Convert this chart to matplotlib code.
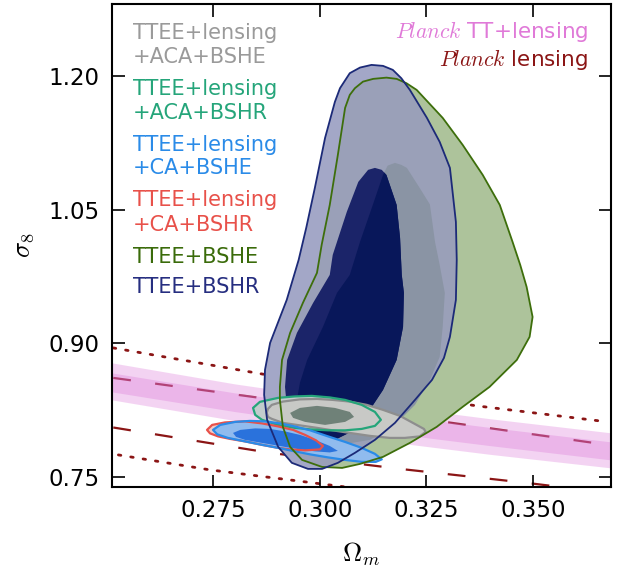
import matplotlib
matplotlib.use("Agg")
import matplotlib.pyplot as plt
from matplotlib.patches import Polygon
import numpy as np

plt.rcParams['font.family'] = ['DejaVu Sans']
plt.rcParams['mathtext.fontset'] = 'cm'

# ---------------- data (Omega_m, sigma_8) ----------------
# TTEE+BSHE (green) 2-sigma and 1-sigma
bshe_out_om = [0.3156, 0.3180, 0.3203, 0.3227, 0.3288, 0.3335, 0.3382, 0.3422, 0.3452, 0.3470, 0.3485, 0.3499, 0.3492,
               0.3462, 0.3398, 0.3335, 0.3274, 0.3211, 0.3148, 0.3094, 0.3052, 0.3005, 0.2958, 0.2930, 0.2913,
               0.2906, 0.2906, 0.2911, 0.2930, 0.2960, 0.2993, 0.3004, 0.3023, 0.3042, 0.3059, 0.3070, 0.3082,
               0.3101, 0.3125]
bshe_out_s8 = [1.1983, 1.1969, 1.1920, 1.1845, 1.1531, 1.1227, 1.0890, 1.0553, 1.0138, 0.9879, 0.9632, 0.9295, 0.9071,
               0.8812, 0.8509, 0.8285, 0.8060, 0.7880, 0.7723, 0.7644, 0.7599, 0.7610, 0.7689, 0.7835, 0.8060,
               0.8363, 0.8509, 0.8812, 0.9116, 0.9453, 0.9790, 1.0104, 1.0553, 1.1115, 1.1643, 1.1789, 1.1864,
               1.1938, 1.1969]
bshe_in_om = [0.3176, 0.3191, 0.3204, 0.3234, 0.3258, 0.3270, 0.3281, 0.3293, 0.3288, 0.3281, 0.3258, 0.3223, 0.3176,
              0.3117, 0.3047, 0.2988, 0.2953, 0.2948, 0.2953, 0.2970, 0.3007, 0.3040, 0.3070, 0.3094, 0.3124,
              0.3148, 0.3159]
bshe_in_s8 = [1.1025, 1.1003, 1.0969, 1.0744, 1.0559, 1.0138, 0.9879, 0.9565, 0.9183, 0.8846, 0.8588, 0.8307, 0.8082,
              0.7914, 0.7858, 0.7914, 0.8139, 0.8419, 0.8554, 0.8812, 0.9183, 0.9565, 0.9767, 1.0138, 1.0553,
              1.0890, 1.0995]

# TTEE+BSHR (navy) 2-sigma and 1-sigma
bshr_out_om = [0.3121, 0.3148, 0.3171, 0.3191, 0.3211, 0.3251, 0.3281, 0.3305, 0.3312, 0.3319, 0.3321, 0.3319, 0.3305,
               0.3291, 0.3263, 0.3223, 0.3176, 0.3129, 0.3082, 0.3042, 0.3005, 0.2972, 0.2934, 0.2902, 0.2876,
               0.2869, 0.2871, 0.2883, 0.2922, 0.2950, 0.2968, 0.2988, 0.3012, 0.3035, 0.3047, 0.3070, 0.3094]
bshr_out_s8 = [1.2126, 1.2115, 1.2070, 1.1976, 1.1845, 1.1531, 1.1261, 1.0969, 1.0666, 1.0362, 0.9936, 0.9486, 0.9071,
               0.8835, 0.8588, 0.8363, 0.8105, 0.7914, 0.7768, 0.7656, 0.7588, 0.7588, 0.7656, 0.7835, 0.8139,
               0.8419, 0.8700, 0.9003, 0.9486, 0.9936, 1.0300, 1.0744, 1.1306, 1.1710, 1.1864, 1.2033, 1.2096]
bshr_in_om = [0.3129, 0.3145, 0.3156, 0.3164, 0.3180, 0.3188, 0.3192, 0.3197, 0.3195, 0.3180, 0.3148, 0.3117, 0.3082,
              0.3035, 0.2977, 0.2941, 0.2923, 0.2918, 0.2923, 0.2946, 0.2984, 0.3023, 0.3030, 0.3063, 0.3090, 0.3113]
bshr_in_s8 = [1.0969, 1.0947, 1.0890, 1.0778, 1.0553, 1.0183, 0.9767, 0.9565, 0.9183, 0.8812, 0.8475, 0.8251, 0.8026,
              0.7914, 0.7891, 0.8026, 0.8251, 0.8509, 0.8812, 0.9116, 0.9453, 0.9767, 0.9992, 1.0475, 1.0812, 1.0947]

# TTEE+lensing+ACA+BSHE (grey)
aca_bshe_out_om = [0.2875, 0.2878, 0.2887, 0.2913, 0.2953, 0.2993, 0.3030, 0.3070, 0.3110, 0.3148, 0.3188, 0.3218,
                   0.3244, 0.3248, 0.3234, 0.3199, 0.3164, 0.3117, 0.3070, 0.3023, 0.2993, 0.2953, 0.2913, 0.2887,
                   0.2878]
aca_bshe_out_s8 = [0.8217, 0.8262, 0.8307, 0.8344, 0.8369, 0.8374, 0.8363, 0.8344, 0.8307, 0.8251, 0.8183, 0.8105,
                   0.8037, 0.8004, 0.7953, 0.7936, 0.7936, 0.7959, 0.7992, 0.8026, 0.8049, 0.8077, 0.8105, 0.8150,
                   0.8172]
aca_bshe_in_om = [0.2930, 0.2953, 0.2993, 0.3035, 0.3070, 0.3080, 0.3059, 0.3012, 0.2965, 0.2937]
aca_bshe_in_s8 = [0.8217, 0.8273, 0.8296, 0.8273, 0.8228, 0.8172, 0.8116, 0.8082, 0.8116, 0.8161]

# TTEE+lensing+ACA+BSHR (teal)
aca_bshr_om = [0.2843, 0.2859, 0.2902, 0.2941, 0.2981, 0.3023, 0.3059, 0.3098, 0.3129, 0.3143, 0.3129, 0.3098,
               0.3059, 0.3019, 0.2977, 0.2941, 0.2902, 0.2864, 0.2848]
aca_bshr_s8 = [0.8273, 0.8341, 0.8386, 0.8402, 0.8408, 0.8391, 0.8363, 0.8307, 0.8228, 0.8139, 0.8071, 0.8037,
               0.8021, 0.8021, 0.8032, 0.8049, 0.8082, 0.8139, 0.8195]

# TTEE+lensing+CA+BSHE (blue)
ca_bshe_out_om = [0.2749, 0.2766, 0.2801, 0.2836, 0.2871, 0.2906, 0.2941, 0.2977, 0.3019, 0.3059, 0.3098, 0.3129,
                  0.3145, 0.3131, 0.3098, 0.3059, 0.3019, 0.2977, 0.2941, 0.2902, 0.2864, 0.2824, 0.2784, 0.2759]
ca_bshe_out_s8 = [0.8026, 0.8082, 0.8116, 0.8127, 0.8122, 0.8099, 0.8065, 0.8021, 0.7953, 0.7891, 0.7824, 0.7757,
                  0.7695, 0.7667, 0.7667, 0.7689, 0.7717, 0.7751, 0.7785, 0.7824, 0.7858, 0.7897, 0.7936, 0.7976]
ca_bshe_in_om = [0.2796, 0.2813, 0.2848, 0.2883, 0.2918, 0.2953, 0.2988, 0.3023, 0.3042, 0.3023, 0.2988, 0.2953,
                 0.2918, 0.2864, 0.2824, 0.2803]
ca_bshe_in_s8 = [0.7992, 0.8026, 0.8043, 0.8037, 0.8009, 0.7970, 0.7914, 0.7846, 0.7790, 0.7773, 0.7785, 0.7807,
                 0.7835, 0.7880, 0.7914, 0.7948]

# TTEE+lensing+CA+BSHR (red)
ca_bshr_om = [0.2735, 0.2747, 0.2777, 0.2824, 0.2864, 0.2902, 0.2937, 0.2965, 0.2991, 0.3007, 0.3000, 0.2965,
              0.2930, 0.2902, 0.2864, 0.2824, 0.2789, 0.2761, 0.2742]
ca_bshr_s8 = [0.8026, 0.8082, 0.8110, 0.8122, 0.8099, 0.8065, 0.8026, 0.7970, 0.7908, 0.7846, 0.7807, 0.7796,
              0.7807, 0.7824, 0.7858, 0.7897, 0.7925, 0.7953, 0.7987]

# Planck TT+lensing band
tt_om = [0.2512, 0.28, 0.31, 0.34, 0.3683]
tt_2s_lo = [0.8363, 0.8131, 0.7929, 0.7751, 0.7599]
tt_2s_hi = [0.8779, 0.8543, 0.8335, 0.8151, 0.7993]
tt_1s_lo = [0.8453, 0.8232, 0.8028, 0.7849, 0.7689]
tt_1s_hi = [0.8666, 0.8442, 0.8236, 0.8053, 0.7891]

# Planck lensing lines
lens_up2_om = [0.2515, 0.2876, 0.3368, 0.3675]
lens_up2_s8 = [0.8947, 0.8644, 0.8296, 0.8116]
lens_lo2_om = [0.2527, 0.2742, 0.2984, 0.3030, 0.3100]
lens_lo2_s8 = [0.7745, 0.7577, 0.7431, 0.7403, 0.7360]
lens_up1_om = [0.2515, 0.2859, 0.3258, 0.3675]
lens_up1_s8 = [0.8610, 0.8386, 0.8140, 0.7858]
lens_lo1_om = [0.2515, 0.2578, 0.2883, 0.3188, 0.3485, 0.3563]
lens_lo1_s8 = [0.8053, 0.8004, 0.7768, 0.7588, 0.7431, 0.7386]

xticks = [0.275, 0.300, 0.325, 0.350]
yticks = [0.75, 0.90, 1.05, 1.20]

labels_left = [("TTEE+lensing", "+ACA+BSHE", "#9a9a9a"),
               ("TTEE+lensing", "+ACA+BSHR", "#25a57a"),
               ("TTEE+lensing", "+CA+BSHE", "#2a8be8"),
               ("TTEE+lensing", "+CA+BSHR", "#e8514a"),
               ("TTEE+BSHE", None, "#3a6b0a"),
               ("TTEE+BSHR", None, "#262e80")]

# ---------------- figure ----------------
fig = plt.figure(figsize=(6.26, 5.69), dpi=100)
ax = fig.add_axes([112/626, 82.3/569, 499/626, 482.7/569])
ax.set_xlim(0.2512, 0.3683)
ax.set_ylim(0.7388, 1.2810)


def poly(om, s8, **kw):
    p = Polygon(np.column_stack([om, s8]), closed=True, joinstyle='round', **kw)
    ax.add_patch(p)
    return p

# Planck lensing lines (behind band)
lc = '#8b1515'
ax.plot(lens_up2_om, lens_up2_s8, color=lc, lw=2.0, dashes=(0.9, 3.6), dash_capstyle='round', zorder=1)
ax.plot(lens_lo2_om, lens_lo2_s8, color=lc, lw=2.0, dashes=(0.9, 3.6), dash_capstyle='round', zorder=1)
ax.plot(lens_up1_om, lens_up1_s8, color=lc, lw=1.6, dashes=(8, 11), zorder=1)
ax.plot(lens_lo1_om, lens_lo1_s8, color=lc, lw=1.6, dashes=(8, 11), zorder=1)

# Planck TT+lensing band
ax.fill_between(tt_om, tt_2s_lo, tt_2s_hi, color='#da70d6', alpha=0.3, lw=0, zorder=2)
ax.fill_between(tt_om, tt_1s_lo, tt_1s_hi, color='#da70d6', alpha=0.3, lw=0, zorder=2)

# Big contours
g_out = poly(bshe_out_om, bshe_out_s8, fc='#adc39b', ec='none', zorder=3)
n_out = poly(bshr_out_om, bshr_out_s8, fc='#a3a7c7', ec='none', zorder=4)
ov = poly(bshe_out_om, bshe_out_s8, fc='#9aa0b8', ec='none', zorder=5)
ov.set_clip_path(n_out)
poly(bshe_in_om, bshe_in_s8, fc='#8a94a4', ec='none', zorder=6)
n_in = poly(bshr_in_om, bshr_in_s8, fc='#1b2469', ec='none', zorder=7)
ov2 = poly(bshe_in_om, bshe_in_s8, fc='#08175a', ec='none', zorder=8)
ov2.set_clip_path(n_in)

# Small contours
poly(aca_bshr_om, aca_bshr_s8, fc='#c2cccc', ec='none', zorder=9)
poly(aca_bshe_out_om, aca_bshe_out_s8, fc='#c8c9c6', ec='none', zorder=10)
poly(aca_bshe_in_om, aca_bshe_in_s8, fc='#6f8178', ec='none', zorder=11)
poly(ca_bshr_om, ca_bshr_s8, fc='#f3c9c4', ec='none', zorder=12)
poly(ca_bshe_out_om, ca_bshe_out_s8, fc='#90bbee', ec='none', zorder=13)
poly(ca_bshe_in_om, ca_bshe_in_s8, fc='#2a72dc', ec='none', zorder=14)

# edges
poly(bshe_out_om, bshe_out_s8, fc='none', ec='#3d6e0b', lw=1.3, zorder=20)
poly(bshr_out_om, bshr_out_s8, fc='none', ec='#1c2a78', lw=1.3, zorder=21)
poly(aca_bshe_out_om, aca_bshe_out_s8, fc='none', ec='#8e8e8e', lw=1.6, zorder=15)
poly(aca_bshr_om, aca_bshr_s8, fc='none', ec='#25a57a', lw=1.6, zorder=16)
poly(ca_bshr_om, ca_bshr_s8, fc='none', ec='#e8514a', lw=1.6, zorder=17)
poly(ca_bshe_out_om, ca_bshe_out_s8, fc='none', ec='#2a8be8', lw=1.6, zorder=18)

# axes styling
ax.set_xticks(xticks)
ax.set_xticklabels(['%.3f' % v for v in xticks])
ax.set_yticks(yticks)
ax.set_yticklabels(['%.2f' % v for v in yticks])
ax.tick_params(direction='in', length=9, width=1.2, top=True, right=True, labelsize=16.5, pad=9)
for s in ax.spines.values():
    s.set_linewidth(1.5)
ax.set_xlabel(r'$\Omega_m$', fontsize=19, labelpad=13)
ax.set_ylabel(r'$\sigma_8$', fontsize=19, labelpad=9)

# text legends
ys = [(0.940, 0.890), (0.824, 0.774), (0.708, 0.660), (0.594, 0.542), (0.475, None), (0.413, None)]
for (l1, l2, c), (y1, y2) in zip(labels_left, ys):
    ax.text(0.042, y1, l1, color=c, fontsize=15, transform=ax.transAxes, va='center', ha='left', zorder=30)
    if l2 is not None:
        ax.text(0.042, y2, l2, color=c, fontsize=15, transform=ax.transAxes, va='center', ha='left', zorder=30)
ax.text(0.954, 0.944, r'$Planck$ TT+lensing', color='#e07ad8', fontsize=15.5,
        transform=ax.transAxes, va='center', ha='right', zorder=30)
ax.text(0.954, 0.884, r'$Planck$ lensing', color='#8b1515', fontsize=15.5,
        transform=ax.transAxes, va='center', ha='right', zorder=30)

fig.savefig('out.png', dpi=100)
